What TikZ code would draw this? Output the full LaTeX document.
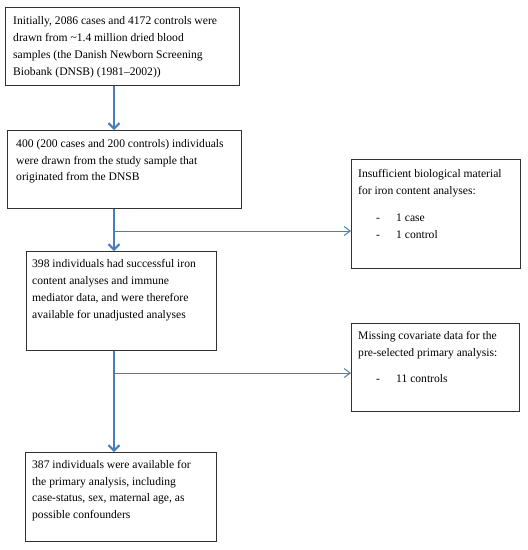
\documentclass[tikz,border=0pt]{standalone}
\usepackage{fontspec}
\setmainfont{Liberation Serif}
\usetikzlibrary{arrows.meta,calc}
\definecolor{arrblue}{RGB}{74,126,187}
\definecolor{boxline}{RGB}{50,50,50}
\tikzset{
  box/.style={draw=boxline, line width=1.1pt, inner sep=0pt, anchor=north west},
  txt/.style={inner sep=0pt, anchor=north west, align=left, font=\fontsize{11.6}{16.8}\selectfont},
  mainarrow/.style={draw=arrblue, line width=2pt, -{Straight Barb[length=5.5pt,width=11pt]}},
  sidearrow/.style={draw=arrblue, line width=1pt, -{Straight Barb[length=6pt,width=9pt]}}
}
\newcommand{\bul}[1]{\hspace*{18pt}\makebox[20pt][l]{-}#1}
\begin{document}
\begin{tikzpicture}[x=1pt,y=-1pt]
\useasboundingbox (0,0) rectangle (528,550);
% boxes
\node[box, minimum width=234pt, minimum height=78pt] (b1) at (5,7) {};
\node[box, minimum width=234pt, minimum height=78pt] (b2) at (7,130) {};
\node[box, minimum width=190pt, minimum height=99pt] (b3) at (26,251) {};
\node[box, minimum width=191pt, minimum height=89pt] (b4) at (25,452) {};
\node[box, minimum width=169pt, minimum height=109pt] (r1) at (351,159) {};
\node[box, minimum width=168pt, minimum height=88pt] (r2) at (351,323) {};
% texts
\node[txt] (t1) at (13,16.5) {Initially, 2086 cases and 4172 controls were\\drawn from \textasciitilde1.4 million dried blood\\samples (the Danish Newborn Screening\\Biobank (DNSB) (1981–2002))};
\node[txt] (t2) at (16,139) {400 (200 cases and 200 controls) individuals\\were drawn from the study sample that\\originated from the DNSB};
\node[txt] (t3) at (32,259.5) {398 individuals had successful iron\\content analyses and immune\\mediator data, and were therefore\\available for unadjusted analyses};
\node[txt] (t4) at (32,460) {387 individuals were available for\\the primary analysis, including\\case-status, sex, maternal age, as\\possible confounders};
\node[txt] (tr1) at (358,169) {Insufficient biological material\\for iron content analyses:\\[11pt]\bul{1 case}\\\bul{1 control}};
\node[txt] (tr2) at (358,331) {Missing covariate data for the\\pre-selected primary analysis:\\[10pt]\bul{11 controls}};
% connectors
\coordinate (ax) at (114,0);
\coordinate (j1) at (114,231);
\coordinate (j2) at (114,373);
\draw[mainarrow] (b1.south -| ax) -- (b2.north -| ax);
\draw[mainarrow] (b2.south -| ax) -- (b3.north -| ax);
\draw[sidearrow] (j1) -- (j1 -| r1.west);
\draw[mainarrow] (b3.south -| ax) -- (b4.north -| ax);
\draw[sidearrow] (j2) -- (j2 -| r2.west);
\end{tikzpicture}
\end{document}
